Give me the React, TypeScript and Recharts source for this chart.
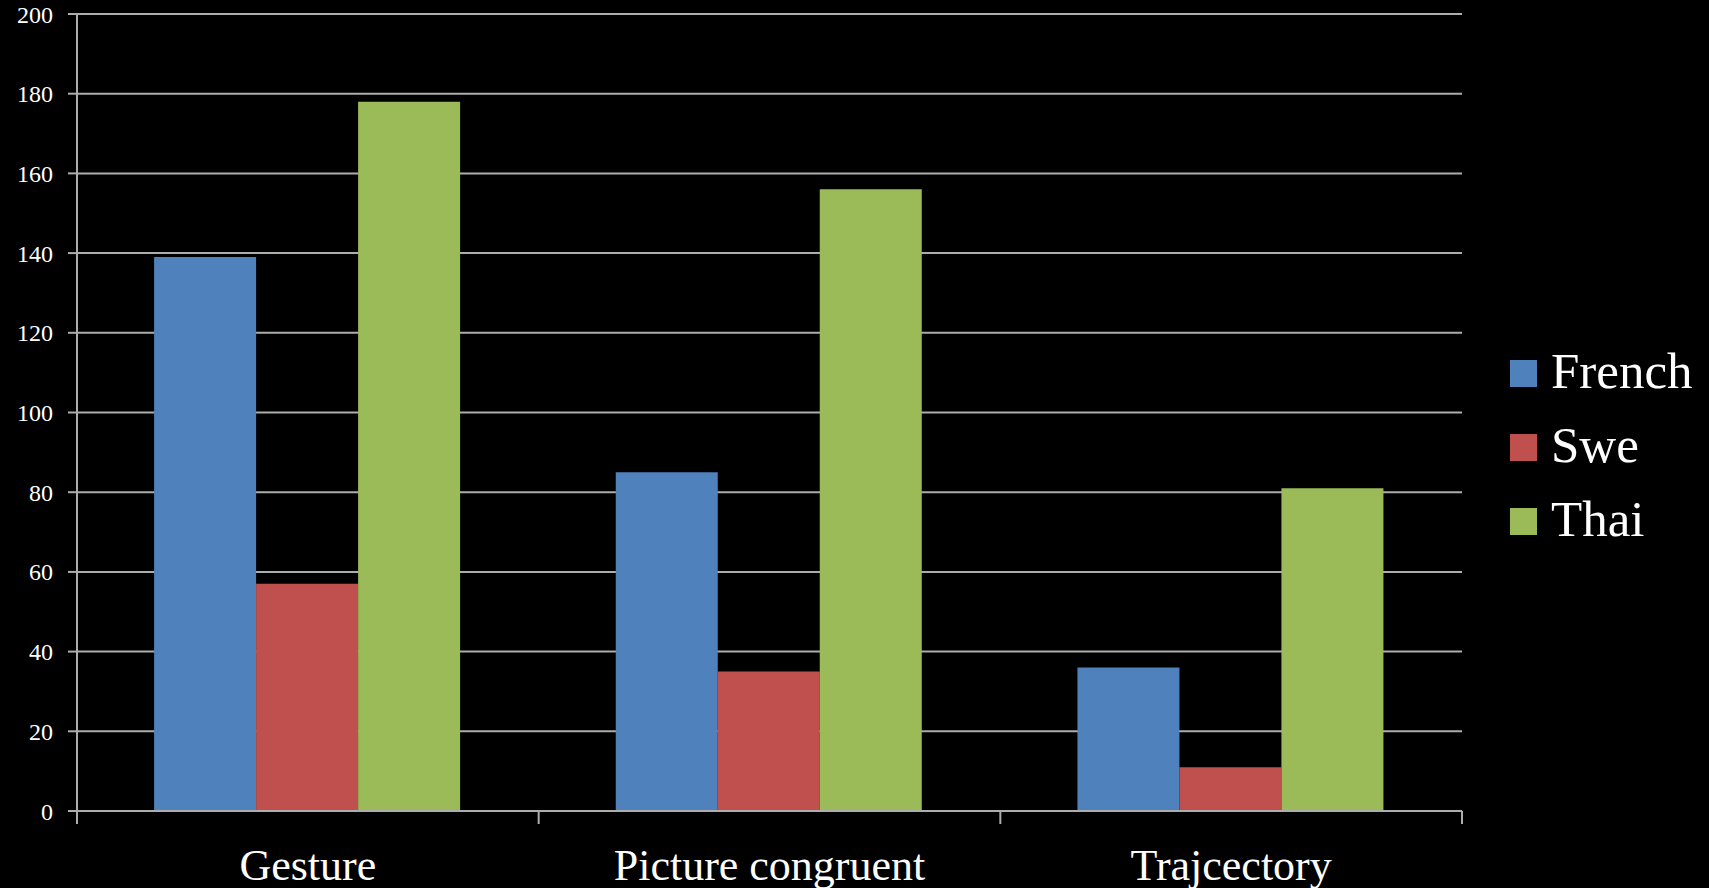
import { BarChart, Bar, XAxis, YAxis, CartesianGrid } from "recharts";

const categories = ["Gesture", "Picture congruent", "Trajcectory"];
const french = [139, 85, 36];
const swe = [57, 35, 11];
const thai = [178, 156, 81];
const yTicks = [0, 20, 40, 60, 80, 100, 120, 140, 160, 180, 200];

const SERIES = [
  { key: "French", color: "#4F81BD" },
  { key: "Swe", color: "#C0504D" },
  { key: "Thai", color: "#9BBB59" },
];

const FONT = '"Liberation Serif", "Times New Roman", serif';
const GRID = "#ADADAD";
const X_TICK_SIZE = 13;
const X_TICK_MARGIN = 25;

const data = categories.map((name, i) => ({
  name,
  French: french[i],
  Swe: swe[i],
  Thai: thai[i],
}));

// category label at the band centre, tick marks on the band edges
function CategoryTick(props: any) {
  const { x, y, payload, index, visibleTicksCount } = props;
  const half = payload?.offset ?? 0;
  const axisY = y - X_TICK_SIZE - X_TICK_MARGIN;
  const last = index === visibleTicksCount - 1;
  return (
    <g>
      <line x1={x - half} x2={x - half} y1={axisY} y2={axisY + X_TICK_SIZE} stroke={GRID} strokeWidth={2} />
      {last && (
        <line x1={x + half} x2={x + half} y1={axisY} y2={axisY + X_TICK_SIZE} stroke={GRID} strokeWidth={2} />
      )}
      <text x={x} y={y} dy="0.71em" textAnchor="middle" fill="#FFFFFF" fontSize={44} fontFamily={FONT}>
        {payload.value}
      </text>
    </g>
  );
}

function SeriesLegend() {
  return (
    <div style={{ position: "absolute", left: 1510, top: 334, fontFamily: FONT, color: "#FFFFFF" }}>
      {SERIES.map((s) => (
        <div key={s.key} style={{ display: "flex", alignItems: "center", height: 74 }}>
          <span style={{ width: 27, height: 27, background: s.color, marginRight: 14, marginTop: 4 }} />
          <span style={{ fontSize: 51, lineHeight: "74px" }}>{s.key}</span>
        </div>
      ))}
    </div>
  );
}

export default function App() {
  return (
    <div style={{ position: "fixed", left: 0, top: 0, width: 1709, height: 888, background: "#000000" }}>
      <BarChart
        width={1709}
        height={888}
        data={data}
        margin={{ top: 14, right: 247, bottom: 0, left: 0 }}
        barCategoryGap="16.7%"
        barGap={0}
      >
        <CartesianGrid vertical={false} stroke={GRID} strokeWidth={2} />
        <XAxis
          dataKey="name"
          height={77}
          axisLine={{ stroke: GRID, strokeWidth: 2 }}
          tickLine={false}
          tickSize={X_TICK_SIZE}
          tickMargin={X_TICK_MARGIN}
          tick={<CategoryTick />}
          interval={0}
        />
        <YAxis
          width={77}
          domain={[0, 200]}
          ticks={yTicks}
          axisLine={{ stroke: GRID, strokeWidth: 2 }}
          tickLine={{ stroke: GRID, strokeWidth: 2 }}
          tickSize={9}
          tickMargin={15}
          tick={{ fill: "#FFFFFF", fontSize: 24, fontFamily: FONT }}
        />
        {SERIES.map((s) => (
          <Bar key={s.key} dataKey={s.key} fill={s.color} isAnimationActive={false} />
        ))}
      </BarChart>
      <SeriesLegend />
    </div>
  );
}
